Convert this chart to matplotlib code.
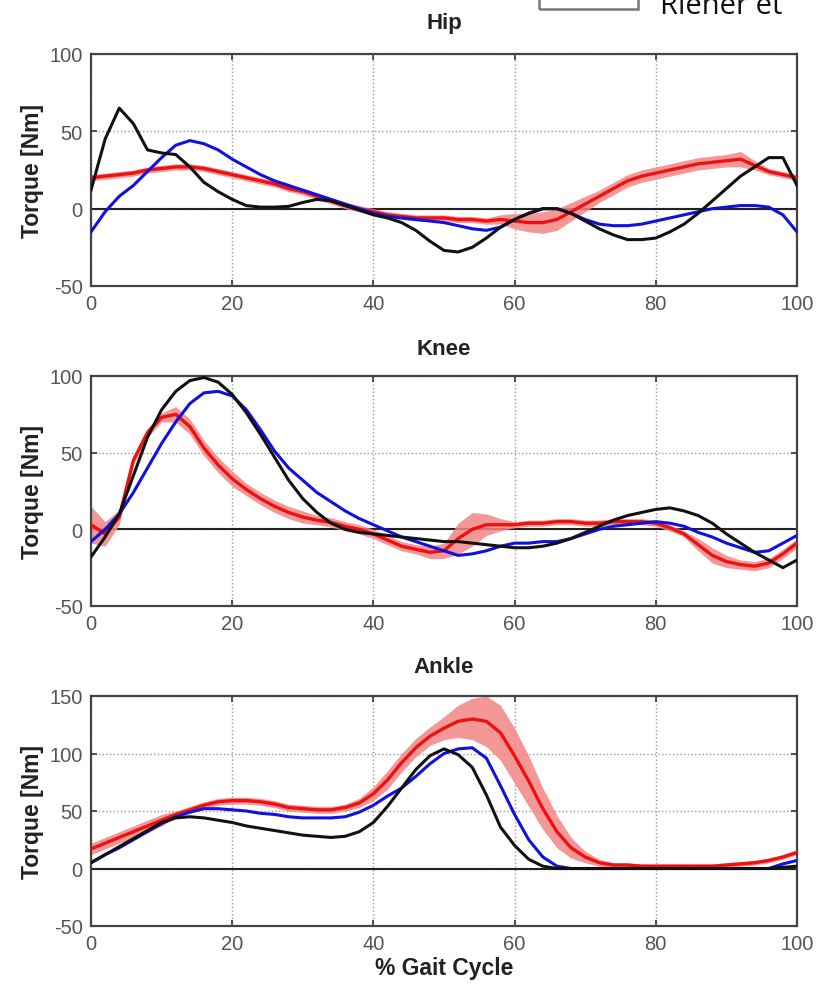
import numpy as np
import matplotlib
matplotlib.use("Agg")
import matplotlib.pyplot as plt
from matplotlib.patches import Rectangle

plt.rcParams['font.family'] = ['Liberation Sans', 'DejaVu Sans']

gait = list(range(0, 101, 2))

# ---------------- Hip ----------------
hip_black = [12, 45, 65, 55, 38, 36, 35, 27, 17, 11, 6, 2, 1, 1, 1.5, 4, 6, 5, 2, -1,
             -4, -6, -9, -14, -21, -27, -28, -25, -19, -12, -7, -3, 0, 0, -3, -8, -13, -17, -20, -20,
             -19, -15, -10, -3, 5, 13, 21, 27, 33, 33, 15]
hip_blue = [-15, -2, 8, 15, 24, 33, 41, 44, 42, 38, 32, 27, 22, 18, 15, 12, 9, 6, 3, 0,
            -3, -5, -6, -7, -8, -9, -11, -13, -14, -12, -7, -3, 0, 0, -3, -7, -10, -11, -11, -10,
            -8, -6, -4, -2, 0, 1, 2, 2, 1, -4, -15]
hip_red = [20, 21, 22, 23, 25, 26, 27, 27, 26, 24, 22, 20, 18, 16, 13, 11, 8, 5, 2, 0,
           -2, -4, -5, -6, -6, -6, -7, -7, -8, -7, -8, -9, -9, -7, -2, 3, 8, 13, 18, 21,
           23, 25, 27, 29, 30, 31, 32, 28, 24, 22, 20]
hip_red_sd = [2, 2, 2, 2, 2, 2, 2, 2, 2, 2, 2, 2, 2, 2, 2, 2, 2, 2, 2, 2,
              2, 2, 2, 2, 2, 2, 2, 2, 2, 3, 5, 6, 7, 7, 6, 5, 4, 4, 4, 4,
              4, 4, 4, 4, 4, 4, 5, 3, 2, 2, 2]

# ---------------- Knee ----------------
knee_black = [-18, -5, 10, 35, 60, 78, 90, 97, 99, 96, 88, 76, 62, 47, 32, 20, 11, 4, 0, -2,
              -3, -4, -5, -6, -7, -8, -8, -9, -10, -11, -12, -12, -11, -9, -6, -2, 2, 6, 9, 11,
              13, 14, 12, 9, 4, -3, -9, -15, -20, -25, -20]
knee_blue = [-8, 0, 10, 24, 40, 56, 70, 82, 89, 90, 87, 78, 65, 51, 40, 32, 24, 18, 12, 7,
             3, -1, -5, -8, -11, -14, -17, -16, -14, -11, -9, -9, -8, -8, -6, -3, 0, 2, 3, 4,
             5, 4, 2, -2, -5, -9, -12, -15, -14, -9, -4]
knee_red = [3, -3, 8, 45, 63, 73, 75, 67, 53, 42, 33, 26, 20, 15, 11, 8, 6, 4.5, 2, 0,
            -3, -7, -11, -13, -15, -14, -6, 0, 3, 3, 3, 4, 4, 5, 5, 4, 4, 5, 5, 5,
            4, 1, -3, -10, -17, -21, -23, -24, -22, -16, -9]
knee_red_sd = [12, 8, 5, 3, 3, 3, 5, 5, 5, 5, 5, 4, 4, 4, 4, 4, 3, 3, 3, 3,
               3, 3, 3, 3, 4, 5, 10, 11, 7, 4, 2, 2, 2, 2, 2, 2, 2, 2, 2, 2,
               2, 2, 2, 4, 5, 4, 3, 3, 3, 3, 3]

# ---------------- Ankle ----------------
ankle_black = [5, 12, 19, 26, 33, 40, 44, 45, 44, 42, 40, 37, 35, 33, 31, 29, 28, 27, 28, 32,
               40, 54, 70, 86, 98, 104, 99, 88, 64, 36, 20, 8, 2, 0, 0, 0, 0, 0, 0, 0,
               0, 0, 0, 0, 0, 0, 0, 0, 0, 1, 2]
ankle_blue = [5, 12, 18, 25, 32, 39, 45, 49, 52, 52, 51, 50, 48, 47, 45, 44, 44, 44, 45, 49,
              55, 63, 70, 80, 91, 100, 104, 105, 96, 72, 47, 25, 10, 2, 0, 0, 0, 0, 0, 0,
              0, 0, 0, 0, 0, 0, 0, 0, 0, 4, 7]
ankle_red = [17, 22, 27, 32, 37, 42, 47, 51, 55, 58, 59, 59, 58, 56, 53, 52, 51, 51, 53, 57,
             65, 77, 92, 105, 115, 122, 128, 130, 128, 118, 98, 76, 52, 32, 18, 10, 5, 3, 3, 2,
             2, 2, 2, 2, 2, 3, 4, 5, 7, 10, 14]
ankle_red_sd = [5, 5, 5, 5, 5, 5, 3, 3, 3, 3, 3, 3, 3, 3, 3, 3, 3, 3, 3, 4,
                6, 8, 8, 8, 8, 10, 14, 18, 22, 24, 24, 22, 18, 14, 9, 5, 3, 2, 2, 2,
                2, 2, 2, 2, 2, 2, 2, 2, 2, 2, 2]

panels = [
    ("Hip", hip_black, hip_blue, hip_red, hip_red_sd, [-50, 0, 50, 100]),
    ("Knee", knee_black, knee_blue, knee_red, knee_red_sd, [-50, 0, 50, 100]),
    ("Ankle", ankle_black, ankle_blue, ankle_red, ankle_red_sd, [-50, 0, 50, 100, 150]),
]
x_ticks = [0, 20, 40, 60, 80, 100]

W, H = 821, 987
fig = plt.figure(figsize=(W / 100, H / 100), dpi=100)

# axes boxes in pixels: (left, top, right, bottom)
boxes = [(91, 55, 797, 287), (91, 377, 797, 607), (91, 697, 797, 927)]
title_pads = [19, 16, 17]

tick_color = '#555555'
for (name, blk, blu, red, sd, yt), (l, t, r, b), tp in zip(panels, boxes, title_pads):
    ax = fig.add_axes([l / W, 1 - b / H, (r - l) / W, (b - t) / H])
    x = np.array(gait)
    red_a = np.array(red, dtype=float)
    sd_a = np.array(sd, dtype=float)
    ax.fill_between(x, red_a - sd_a, red_a + sd_a, color='#f38585', alpha=0.85, lw=0, zorder=2)
    ax.axhline(0, color='#222222', lw=1.5, zorder=1.5)
    ax.plot(x, red_a, color='#ee1111', lw=2.4, zorder=3, solid_joinstyle='round')
    ax.plot(x, blu, color='#1010e0', lw=2.2, zorder=4, solid_joinstyle='round')
    ax.plot(x, blk, color='#111111', lw=2.2, zorder=5, solid_joinstyle='round')
    ax.set_xlim(0, 100)
    ax.set_ylim(yt[0], yt[-1])
    ax.set_xticks(x_ticks)
    ax.set_yticks(yt)
    ax.set_xticklabels([str(v) for v in x_ticks])
    ax.set_yticklabels([str(v) for v in yt])
    ax.grid(True, linestyle=':', color='#999999', lw=1.0)
    ax.set_axisbelow(True)
    ax.tick_params(direction='in', length=4, width=1.2, colors='#333333',
                   labelcolor=tick_color, labelsize=14.5, pad=6, top=True, right=True)
    for s in ax.spines.values():
        s.set_linewidth(1.6)
        s.set_color('#444444')
    ax.set_title(name, fontsize=16, fontweight='bold', color='#222222', pad=tp)
    ax.set_ylabel('Torque [Nm]', fontsize=16.5, fontweight='bold', color='#222222', labelpad=4)
    if name == "Ankle":
        ax.set_xlabel('% Gait Cycle', fontsize=16.5, fontweight='bold', color='#222222', labelpad=2)

# cropped header fragment at top right
fig.patches.append(Rectangle((539 / W, 1 - 10 / H), (638 - 539) / W, 40 / H,
                             transform=fig.transFigure, fill=False,
                             edgecolor='#777777', lw=1.8, clip_on=False))
fig.text(660 / W, 1 - 14 / H, 'Riener et', fontsize=21, family=['Open Sans', 'DejaVu Sans'],
         va='baseline', ha='left', color='#111111')

fig.savefig('out.png', dpi=100)
